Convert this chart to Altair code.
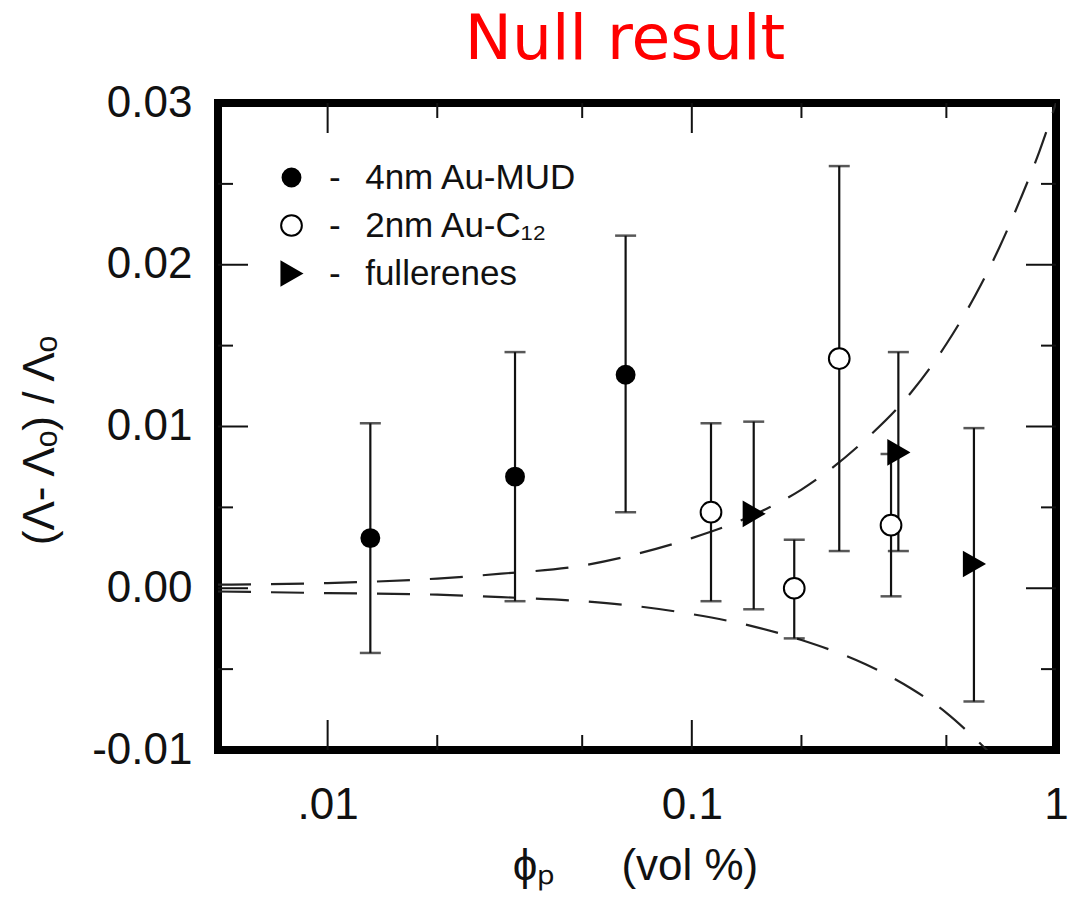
import altair as alt
import pandas as pd

# ---------------- data ----------------
series_names = ["4nm Au-MUD", "2nm Au-C\u2081\u2082", "fullerenes"]

mud_x = [0.0131, 0.0327, 0.0658]
mud_y = [0.0031, 0.0069, 0.0132]
mud_lo = [-0.0040, -0.0008, 0.0047]
mud_hi = [0.0102, 0.0146, 0.0218]

c12_x = [0.1129, 0.1911, 0.2540, 0.3524]
c12_y = [0.0047, 0.0000, 0.0142, 0.0039]
c12_lo = [-0.0008, -0.0031, 0.0023, -0.0005]
c12_hi = [0.0102, 0.0030, 0.0261, 0.0083]

ful_x = [0.1479, 0.3691, 0.5952]
ful_y = [0.0046, 0.0084, 0.0015]
ful_lo = [-0.0013, 0.0023, -0.0070]
ful_hi = [0.0103, 0.0146, 0.0099]

upper_x = [0.005, 0.01, 0.02, 0.03, 0.05, 0.07, 0.1, 0.15, 0.2, 0.3, 0.4, 0.5, 0.6, 0.7, 0.8, 0.9, 1.0]
upper_y = [0.00022, 0.00032, 0.0006, 0.0009, 0.0014, 0.0021, 0.0031, 0.0046, 0.0061, 0.0092,
           0.0121, 0.0151, 0.0181, 0.0211, 0.0241, 0.0270, 0.0300]
lower_x = [0.005, 0.01, 0.02, 0.03, 0.05, 0.07, 0.1, 0.15, 0.2, 0.3, 0.4, 0.5, 0.6, 0.7]
lower_y = [-0.0002, -0.0003, -0.0004, -0.00055, -0.0008, -0.0011, -0.0016, -0.0024, -0.0032,
           -0.0047, -0.0062, -0.0077, -0.0093, -0.0108]

x_label_values = [0.01, 0.1, 1.0]
x_label_texts = [".01", "0.1", "1"]
y_label_values = [-0.01, 0.0, 0.01, 0.02, 0.03]
y_label_texts = ["-0.01", "0.00", "0.01", "0.02", "0.03"]
x_major_ticks = [0.01, 0.1]
x_minor_ticks = [0.02, 0.05, 0.2, 0.5]
y_major_ticks = [0.0, 0.01, 0.02]
y_minor_ticks = [-0.005, 0.005, 0.015, 0.025]

# ---------------- tables ----------------
rows = []
for name, xs, ys, los, his in [
    (series_names[0], mud_x, mud_y, mud_lo, mud_hi),
    (series_names[1], c12_x, c12_y, c12_lo, c12_hi),
    (series_names[2], ful_x, ful_y, ful_lo, ful_hi),
]:
    for x, y, lo, hi in zip(xs, ys, los, his):
        rows.append({"series": name, "x": x, "y": y, "lo": lo, "hi": hi})
pts = pd.DataFrame(rows)

curves = pd.concat([
    pd.DataFrame({"curve": "upper", "x": upper_x, "y": upper_y}),
    pd.DataFrame({"curve": "lower", "x": lower_x, "y": lower_y}),
])

xmaj = pd.DataFrame({"v": x_major_ticks})
xmin = pd.DataFrame({"v": x_minor_ticks})
ymaj = pd.DataFrame({"v": y_major_ticks})
ymin = pd.DataFrame({"v": y_minor_ticks})

W, H = 838, 647
MAJ, MIN = 30, 15
FONT = "Liberation Sans"
INK = "#111111"

xscale = alt.Scale(type="log", domain=[0.005, 1.0], nice=False)
yscale = alt.Scale(domain=[-0.01, 0.03], nice=False, zero=False)

def lab_expr(values, texts):
    expr = "''"
    for v, t in reversed(list(zip(values, texts))):
        expr = f"abs(datum.value - ({v})) < 1e-9 ? '{t}' : " + expr
    return expr

x_axis = alt.Axis(
    values=x_label_values, labelExpr=lab_expr(x_label_values, x_label_texts),
    ticks=False, domain=False, grid=False, labelFlush=False, labelOverlap=False,
    labelFontSize=44, labelFont=FONT, labelColor=INK, labelPadding=33,
    title="\u03d5\u209a\u2003\u2002(vol %)", titleFont=FONT, titleFontSize=44,
    titleFontWeight="normal", titleColor=INK, titleX=417, titleY=116,
    titleBaseline="middle", titleAlign="center",
)
y_axis = alt.Axis(
    values=y_label_values, labelExpr=lab_expr(y_label_values, y_label_texts),
    ticks=False, domain=False, grid=False, labelFlush=False, labelOverlap=False,
    labelFontSize=44, labelFont=FONT, labelColor=INK, labelPadding=26,
    title="(\u039b- \u039b\u2092) / \u039b\u2092", titleFont=FONT, titleFontSize=44,
    titleFontWeight="normal", titleColor=INK, titleX=-178, titleY=337,
    titleBaseline="middle", titleAlign="center", titleAngle=270,
)

base_x = alt.X("x:Q", scale=xscale, axis=x_axis)
base_y = alt.Y("y:Q", scale=yscale, axis=y_axis)

lines = alt.Chart(curves).mark_line(
    strokeDash=[33, 20], strokeWidth=2.2, color="#222222", interpolate="monotone", clip=True
).encode(x=base_x, y=base_y, detail="curve:N")

bars = alt.Chart(pts).mark_rule(color=INK, strokeWidth=2.2).encode(
    x=alt.X("x:Q", scale=xscale), y=alt.Y("lo:Q", scale=yscale), y2="hi:Q"
)
cap_lo = alt.Chart(pts).mark_tick(orient="horizontal", size=21, thickness=2.5, color=INK).encode(
    x=alt.X("x:Q", scale=xscale), y=alt.Y("lo:Q", scale=yscale)
)
cap_hi = alt.Chart(pts).mark_tick(orient="horizontal", size=21, thickness=2.5, color=INK).encode(
    x=alt.X("x:Q", scale=xscale), y=alt.Y("hi:Q", scale=yscale)
)

legend = alt.Legend(
    title=None, orient="none", legendX=56, legendY=57, padding=0,
    labelFontSize=35, labelFont=FONT, labelColor=INK, labelLimit=400,
    labelExpr="'-\u2002\u2009' + datum.label",
    symbolStrokeWidth=2, rowPadding=12, labelOffset=20,
)
points = alt.Chart(pts).mark_point(filled=True, strokeWidth=2, opacity=1).encode(
    x=alt.X("x:Q", scale=xscale),
    y=alt.Y("y:Q", scale=yscale),
    shape=alt.Shape("series:N", scale=alt.Scale(domain=series_names,
                    range=["circle", "circle", "triangle-right"]), legend=legend),
    fill=alt.Fill("series:N", scale=alt.Scale(domain=series_names,
                  range=["black", "white", "black"]), legend=legend),
    stroke=alt.Stroke("series:N", scale=alt.Scale(domain=series_names,
                      range=["black", "black", "black"]), legend=legend),
    size=alt.Size("series:N", scale=alt.Scale(domain=series_names,
                  range=[320, 540, 170]), legend=legend),
)

def xticks(df, length, top):
    if top:
        return alt.Chart(df).mark_rule(color=INK, strokeWidth=2).encode(
            x=alt.X("v:Q", scale=xscale), y=alt.value(0), y2=alt.value(length))
    return alt.Chart(df).mark_rule(color=INK, strokeWidth=2).encode(
        x=alt.X("v:Q", scale=xscale), y=alt.value(H), y2=alt.value(H - length))

def yticks(df, length, right):
    if right:
        return alt.Chart(df).mark_rule(color=INK, strokeWidth=2).encode(
            y=alt.Y("v:Q", scale=yscale), x=alt.value(W), x2=alt.value(W - length))
    return alt.Chart(df).mark_rule(color=INK, strokeWidth=2).encode(
        y=alt.Y("v:Q", scale=yscale), x=alt.value(0), x2=alt.value(length))

ticks = [
    xticks(xmaj, MAJ, False), xticks(xmin, MIN, False),
    xticks(xmaj, MAJ, True), xticks(xmin, MIN, True),
    yticks(ymaj, MAJ, False), yticks(ymin, MIN, False),
    yticks(ymaj, MAJ, True), yticks(ymin, MIN, True),
]

chart = alt.layer(lines, bars, cap_lo, cap_hi, points, *ticks).properties(
    width=W, height=H,
    autosize=alt.AutoSizeParams(type="none"),
    padding={"left": 218, "top": 103, "right": 12, "bottom": 149},
    title=alt.TitleParams(
        "Null result", font="DejaVu Sans", fontSize=63, fontWeight="normal",
        color="#ff0000", anchor="middle", frame="group", dx=-12, dy=-3, offset=6,
    ),
).configure(font=FONT, background="white").configure_view(
    stroke="black", strokeWidth=8
)

chart.save("out.html", embed_options={"renderer": "svg", "actions": False})
